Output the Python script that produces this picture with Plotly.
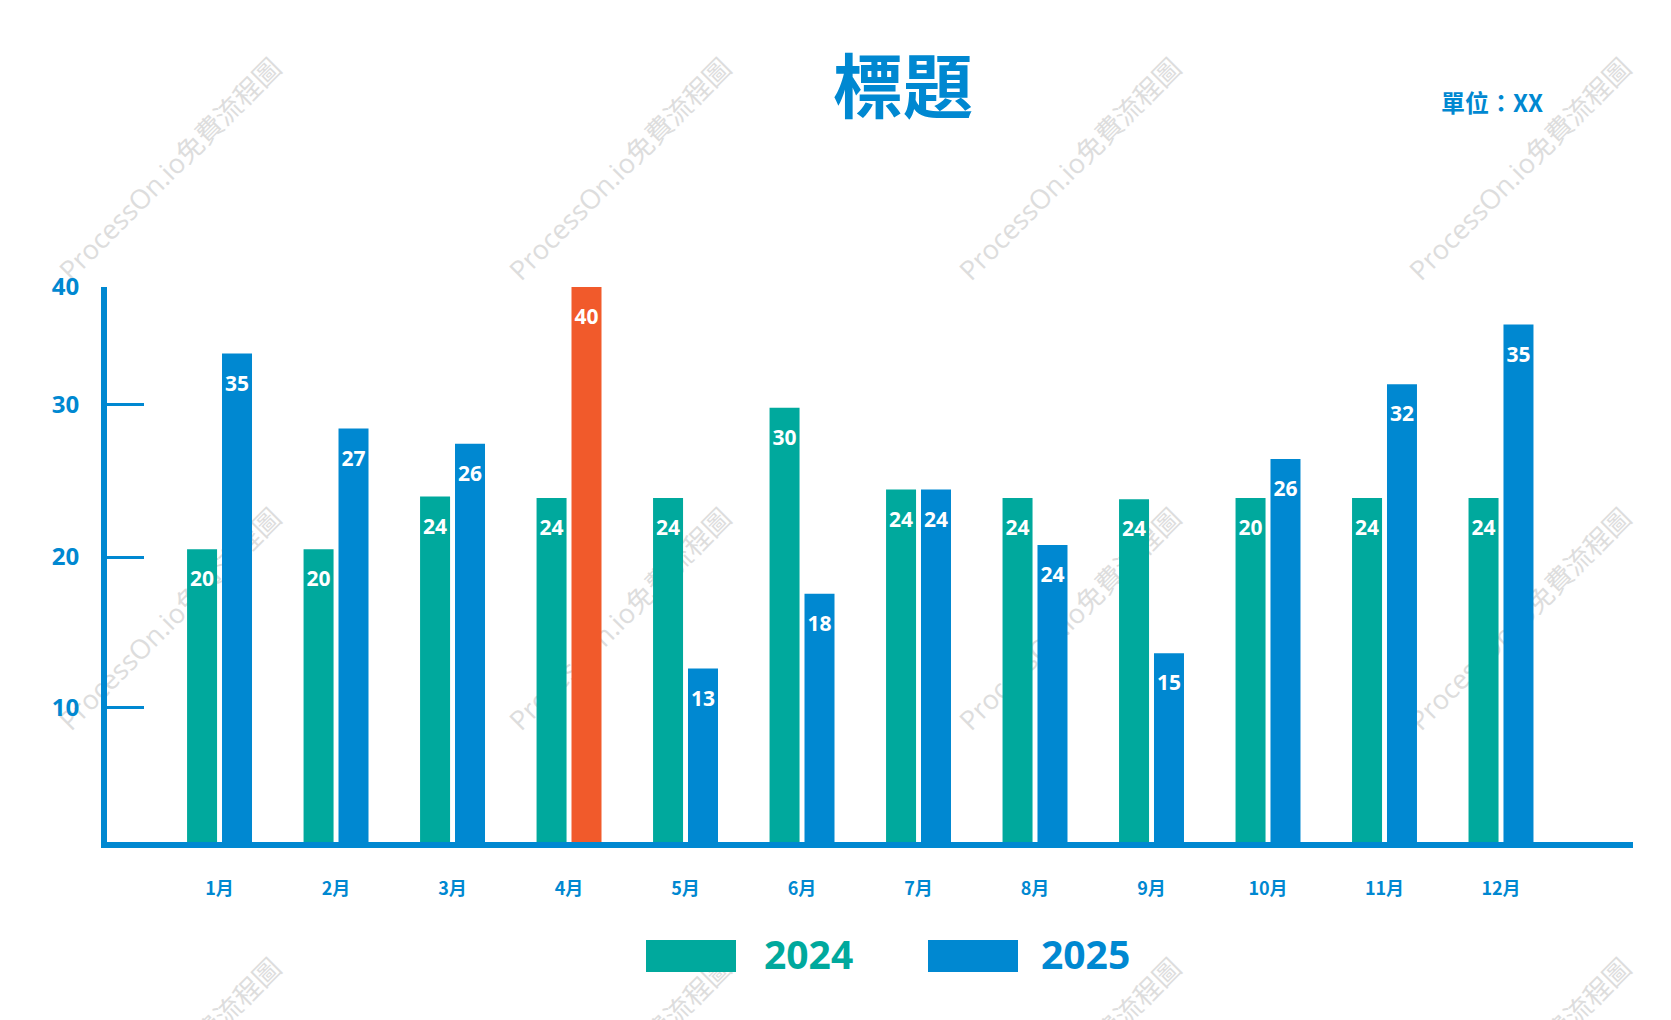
import plotly.graph_objects as go

# ---------------- data ----------------
months = ["1月", "2月", "3月", "4月", "5月", "6月", "7月", "8月", "9月", "10月", "11月", "12月"]
values_2024 = [21.1, 21.1, 24.9, 24.8, 24.8, 31.3, 25.4, 24.8, 24.7, 24.8, 24.8, 24.8]
values_2025 = [35.2, 29.8, 28.7, 40.0, 12.5, 17.9, 25.4, 21.4, 13.6, 27.6, 33.0, 37.3]
labels_2024 = ["20", "20", "24", "24", "24", "30", "24", "24", "24", "20", "24", "24"]
labels_2025 = ["35", "27", "26", "40", "13", "18", "24", "24", "15", "26", "32", "35"]
y_tick_values = [9.67, 20.54, 31.52, 40]
y_tick_labels = ["10", "20", "30", "40"]
series_names = ["2024", "2025"]
highlight_month = "4月"
title_text = "標題"
unit_text = "單位：XX"
watermark_text = "ProcessOn.io免費流程圖"

# ---------------- style ----------------
TEAL = "#00A99D"
BLUE = "#0088D1"
ORANGE = "#F15A2B"
FONT = "Open Sans, Noto Sans CJK TC, sans-serif"
CJK = "Noto Sans CJK TC, sans-serif"

W, H = 1671, 1020
L, R, T, B = 107, 38, 287, 178
PW, PH = W - L - R, H - T - B

bar_w = 0.2575
half_gap = 0.150
xs = list(range(len(months)))

colors_2025 = [ORANGE if m == highlight_month else BLUE for m in months]

fig = go.Figure()
fig.add_trace(go.Bar(
    x=xs, y=values_2024, name=series_names[0], width=bar_w,
    offset=-half_gap - bar_w / 2, marker=dict(color=TEAL, line=dict(width=0)),
    showlegend=False, hoverinfo="skip",
))
fig.add_trace(go.Bar(
    x=xs, y=values_2025, name=series_names[1], width=bar_w,
    offset=half_gap - bar_w / 2, marker=dict(color=colors_2025, line=dict(width=0)),
    showlegend=False, hoverinfo="skip",
))
# value labels inside bars
label_drop = 2.3
fig.add_trace(go.Scatter(
    x=[x - half_gap for x in xs], y=[v - label_drop for v in values_2024],
    text=labels_2024, mode="text",
    textfont=dict(color="white", size=21, family=FONT, weight="bold"),
    showlegend=False, hoverinfo="skip",
))
fig.add_trace(go.Scatter(
    x=[x + half_gap for x in xs], y=[v - label_drop for v in values_2025],
    text=labels_2025, mode="text",
    textfont=dict(color="white", size=21, family=FONT, weight="bold"),
    showlegend=False, hoverinfo="skip",
))

def px_to_paper(X, Y):
    return (X - L) / PW, (H - B - Y) / PH

shapes = []
annotations = []

# watermarks (below bars)
for cy in [170, 620, 1070]:
    for cx in [171, 621, 1071, 1521]:
        px, py = px_to_paper(cx, cy)
        shapes.append(dict(
            type="rect", xref="paper", yref="paper",
            x0=px - 0.001, x1=px + 0.001, y0=py - 0.001, y1=py + 0.001,
            line=dict(width=0), fillcolor="rgba(0,0,0,0)", layer="below",
            label=dict(text=watermark_text, textangle=-45,
                       textposition="middle center",
                       font=dict(size=27, color="#dddddd", family=FONT)),
        ))

# title and unit
tx, ty = px_to_paper(903, 82)
annotations.append(dict(text=title_text, x=tx, y=ty, xref="paper", yref="paper",
                        showarrow=False, xanchor="center", yanchor="middle",
                        font=dict(size=70, color=BLUE, family=CJK, weight="bold")))
ux, uy = px_to_paper(1492, 101)
annotations.append(dict(text=unit_text, x=ux, y=uy, xref="paper", yref="paper",
                        showarrow=False, xanchor="center", yanchor="middle",
                        font=dict(size=24, color=BLUE, family=CJK, weight="bold")))

# custom legend
legend_items = [(series_names[0], TEAL, 646, 736, 762), (series_names[1], BLUE, 928, 1018, 1039)]
for name, col, x0, x1, xt in legend_items:
    p0x, p0y = px_to_paper(x0, 972)
    p1x, p1y = px_to_paper(x1, 940)
    shapes.append(dict(type="rect", xref="paper", yref="paper",
                       x0=p0x, x1=p1x, y0=p0y, y1=p1y,
                       fillcolor=col, line=dict(width=0), layer="above"))
    lx, ly = px_to_paper(xt, 953)
    annotations.append(dict(text=name, x=lx, y=ly, xref="paper", yref="paper",
                            showarrow=False, xanchor="left", yanchor="middle",
                            font=dict(size=39, color=col, family=FONT, weight="bold")))

fig.update_layout(
    width=W, height=H,
    margin=dict(l=L, r=R, t=T, b=B, pad=0),
    paper_bgcolor="white", plot_bgcolor="rgba(0,0,0,0)",
    barmode="overlay",
    shapes=shapes, annotations=annotations,
    showlegend=False,
    xaxis=dict(
        range=[-0.966, 12.133], tickvals=xs, ticktext=months,
        showline=True, linewidth=6, linecolor=BLUE,
        showgrid=False, zeroline=False, ticks="",
        tickfont=dict(size=18, color=BLUE, family=CJK, weight="bold"),
        ticklabelstandoff=25,
    ),
    yaxis=dict(
        range=[0, 40], tickvals=y_tick_values, ticktext=y_tick_labels,
        showline=True, linewidth=6, linecolor=BLUE,
        showgrid=False, zeroline=False,
        ticks="inside", ticklen=37, tickwidth=3, tickcolor=BLUE,
        tickfont=dict(size=24, color=BLUE, family=FONT, weight="bold"),
        ticklabelstandoff=17,
    ),
)

fig.write_html("out.html")
